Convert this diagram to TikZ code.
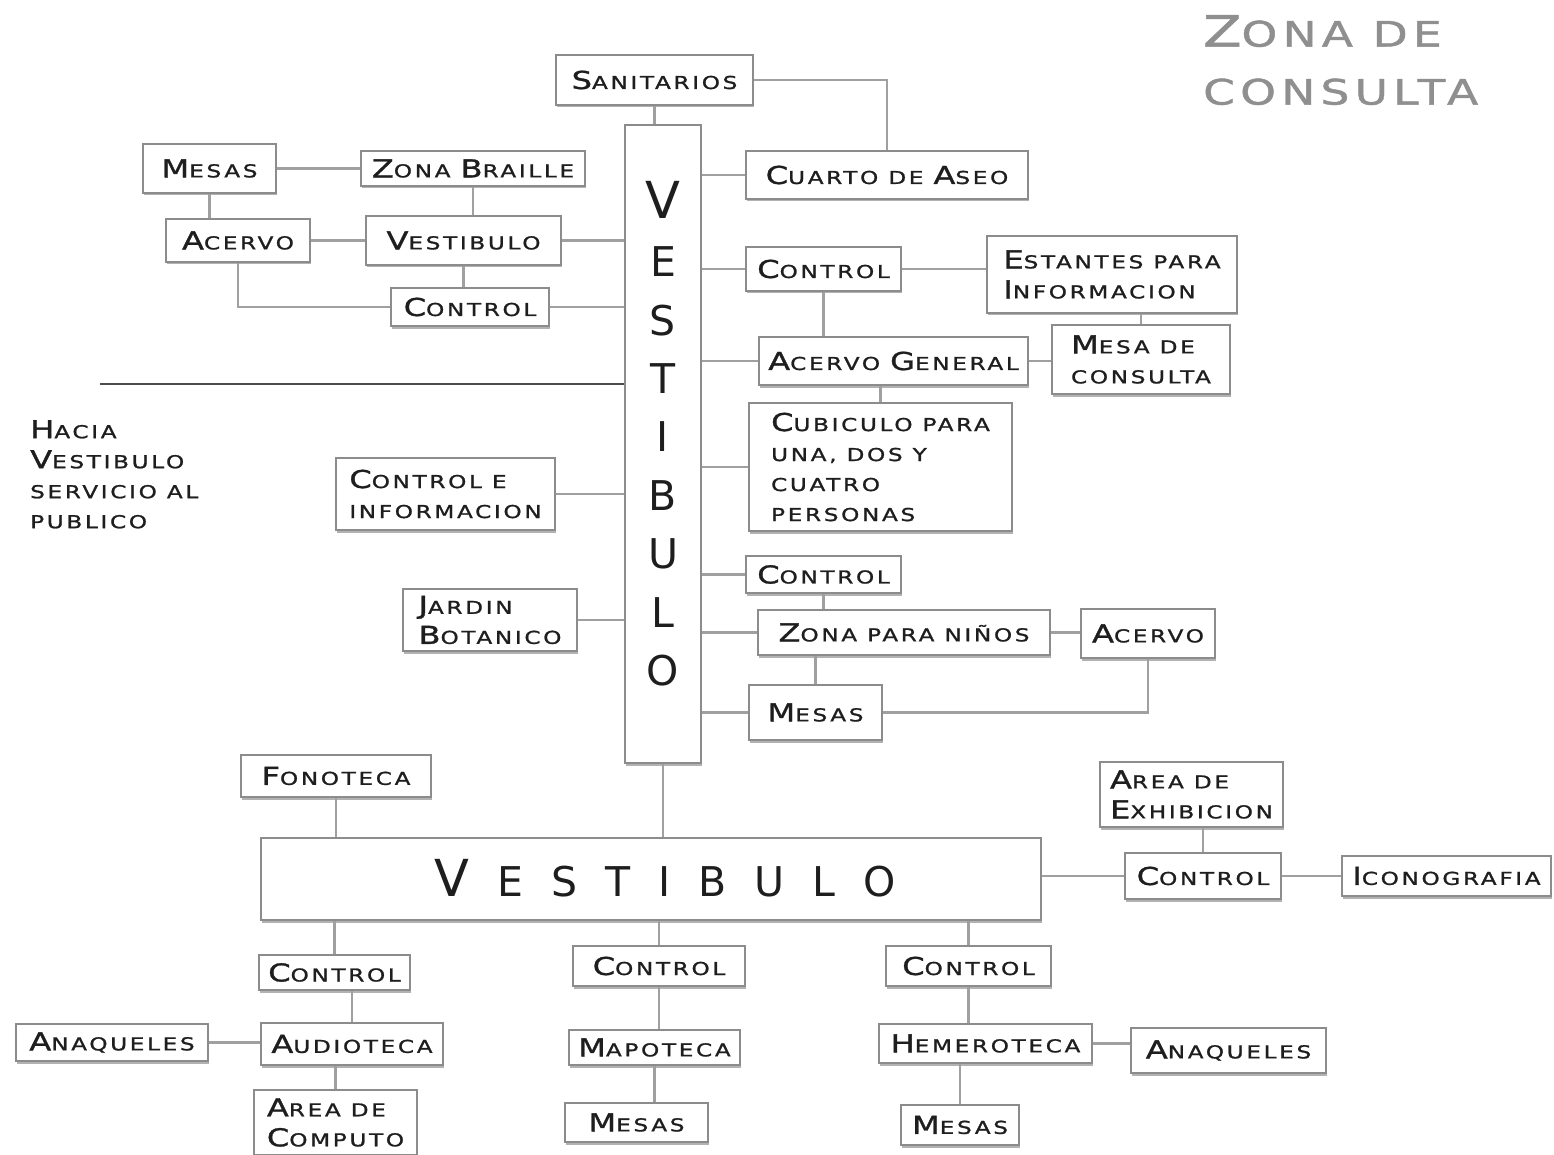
\documentclass[tikz,border=0pt]{standalone}
\usepackage{fontspec}
\usepackage{tikz}
\usetikzlibrary{positioning,shadows}

\newfontfamily\boxfont[FakeStretch=1.3,LetterSpace=15,FakeBold=1.2]{DejaVu Sans}
\newfontfamily\vestfont{DejaVu Sans}

\definecolor{boxgray}{HTML}{8C8C8C}
\definecolor{linegray}{HTML}{A0A0A0}
\definecolor{titlegray}{HTML}{8F8F8F}
\definecolor{txt}{HTML}{1E1E1E}

% big initial letter of the small caps
\newcommand\Ini[1]{{\fontsize{24.7}{30}\selectfont #1}}
\newcommand\Iniv[1]{{\fontsize{51}{58.4}\selectfont #1}}
\newcommand\Initl[1]{{\fontsize{43}{58}\selectfont #1}}
\newcommand\gap{\hspace{28pt}}

\begin{document}
\begin{tikzpicture}[x=1pt, y=-1pt,
    box/.style={draw=boxgray, line width=2pt, fill=white, inner sep=0pt,
        align=center, text=txt, font=\boxfont\fontsize{17.8}{30}\selectfont,
        drop shadow={shadow xshift=0.5pt, shadow yshift=-2.5pt, fill=black!30, opacity=1}},
    link/.style={draw=linegray, line width=2.5pt},
    vlabel/.style={inner sep=0pt, align=center, text=txt, font=\vestfont\fontsize{41}{58.4}\selectfont}]

    \fill[white] (0,0) rectangle (1554,1155);
    \useasboundingbox (0,0) rectangle (1554,1155);

    % Title
    \node[anchor=north west, inner sep=0pt, align=left, text=titlegray,
        font=\boxfont\fontsize{35}{58}\selectfont] (title) at (1203,15)
        {\Initl{Z}ONA DE\\CONSULTA};
    \node[anchor=north west, inner sep=0pt, align=left, text=txt,
        font=\boxfont\fontsize{17.8}{30}\selectfont] (hacia) at (30,420)
        {\Ini{H}ACIA\\\Ini{V}ESTIBULO\\SERVICIO AL\\PUBLICO};

    % Vertical vestibulo
    \node[box, minimum width=76, minimum height=638] (vert) at (663,444) {};
    \node[vlabel] (vertlbl) at (663,433.5) {\Iniv{V}\\E\\S\\T\\I\\B\\U\\L\\O};

    % Nodes top left
    \node[box, minimum width=197, minimum height=50] (sanit) at (654.5,80) {\Ini{S}ANITARIOS};
    \node[box, minimum width=133, minimum height=49] (mesasTL) at (209.5,168.5) {\Ini{M}ESAS};
    \node[box, minimum width=224, minimum height=35] (braille) at (473,168.5) {\Ini{Z}ONA \Ini{B}RAILLE};
    \node[box, minimum width=144, minimum height=43] (acervoTL) at (238,240.5) {\Ini{A}CERVO};
    \node[box, minimum width=195, minimum height=49] (vestTL) at (463.5,240.5) {\Ini{V}ESTIBULO};
    \node[box, minimum width=158, minimum height=38] (controlTL) at (470,307) {\Ini{C}ONTROL};
    \node[box, minimum width=219, minimum height=72, align=left] (controlInfo) at (445.5,494) {\Ini{C}ONTROL E\\INFORMACION};
    \node[box, minimum width=174, minimum height=62, align=left] (jardin) at (490,620) {\Ini{J}ARDIN\\\Ini{B}OTANICO};

    % Nodes right
    \node[box, minimum width=282, minimum height=48] (cuarto) at (887,175) {\Ini{C}UARTO DE \Ini{A}SEO};
    \node[box, minimum width=155, minimum height=44] (control2) at (823.5,269) {\Ini{C}ONTROL};
    \node[box, minimum width=250, minimum height=77, align=left] (estantes) at (1112,274.5) {\Ini{E}STANTES PARA\\\Ini{I}NFORMACION};
    \node[box, minimum width=269, minimum height=48] (acervoGen) at (893.5,361) {\Ini{A}CERVO \Ini{G}ENERAL};
    \node[box, minimum width=178, minimum height=69, align=left] (mesaCons) at (1141,359.5) {\Ini{M}ESA DE\\CONSULTA};
    \node[box, minimum width=263, minimum height=128, align=left] (cubiculo) at (880.5,467) {\Ini{C}UBICULO PARA\\UNA, DOS Y\\CUATRO\\PERSONAS};
    \node[box, minimum width=155, minimum height=37] (control3) at (823.5,574.5) {\Ini{C}ONTROL};
    \node[box, minimum width=292, minimum height=45] (ninos) at (904,632.5) {\Ini{Z}ONA PARA NIÑOS};
    \node[box, minimum width=134, minimum height=49] (acervoN) at (1148,633.5) {\Ini{A}CERVO};
    \node[box, minimum width=133, minimum height=55] (mesasN) at (815.5,712.5) {\Ini{M}ESAS};

    % Horizontal vestibulo
    \node[box, minimum width=780, minimum height=82] (vestBig) at (651,879) {};
    \node[vlabel] (vestlbl) at (665,878) {\Iniv{V}\gap E\gap S\gap T\gap I\gap B\gap U\gap L\gap O};

    % Nodes bottom
    \node[box, minimum width=190, minimum height=42] (fonoteca) at (336,776) {\Ini{F}ONOTECA};
    \node[box, minimum width=183, minimum height=65, align=left] (areaExh) at (1191.5,794.5) {\Ini{A}REA DE\\\Ini{E}XHIBICION};
    \node[box, minimum width=156, minimum height=46] (controlR) at (1203,876) {\Ini{C}ONTROL};
    \node[box, minimum width=209, minimum height=40] (icono) at (1446.5,876) {\Ini{I}CONOGRAFIA};
    \node[box, minimum width=151, minimum height=35] (controlB1) at (334.5,972.5) {\Ini{C}ONTROL};
    \node[box, minimum width=182, minimum height=42] (audioteca) at (352,1044) {\Ini{A}UDIOTECA};
    \node[box, minimum width=192, minimum height=37] (anaquelesL) at (112,1042.5) {\Ini{A}NAQUELES};
    \node[box, minimum width=163, minimum height=65, align=left] (areaComp) at (335.5,1122.5) {\Ini{A}REA DE\\\Ini{C}OMPUTO};
    \node[box, minimum width=172, minimum height=40] (controlB2) at (659,966) {\Ini{C}ONTROL};
    \node[box, minimum width=171, minimum height=35] (mapoteca) at (654.5,1047.5) {\Ini{M}APOTECA};
    \node[box, minimum width=143, minimum height=39] (mesasB2) at (636.5,1122.5) {\Ini{M}ESAS};
    \node[box, minimum width=165, minimum height=40] (controlB3) at (968.5,966) {\Ini{C}ONTROL};
    \node[box, minimum width=213, minimum height=39] (hemeroteca) at (985.5,1043.5) {\Ini{H}EMEROTECA};
    \node[box, minimum width=195, minimum height=45] (anaquelesR) at (1228.5,1050.5) {\Ini{A}NAQUELES};
    \node[box, minimum width=118, minimum height=40] (mesasB3) at (960,1125) {\Ini{M}ESAS};

    % Connections top left
    \draw[link] (sanit.south) -- (sanit.south |- vert.north);
    \draw[link] (sanit.east) -| (cuarto.north);
    \draw[link] (mesasTL.east) -- (braille.west);
    \draw[link] (mesasTL.south) -- (mesasTL.south |- acervoTL.north);
    \draw[link] (braille.south) -- (braille.south |- vestTL.north);
    \draw[link] (acervoTL.east) -- (vestTL.west);
    \draw[link] (vestTL.east) -- (vestTL.east -| vert.west);
    \draw[link] (vestTL.south) -- (vestTL.south |- controlTL.north);
    \draw[link] (acervoTL.south) |- (controlTL.west);
    \draw[link] (controlTL.east) -- (controlTL.east -| vert.west);
    \draw[link] (controlInfo.east) -- (controlInfo.east -| vert.west);
    \draw[link] (jardin.east) -- (jardin.east -| vert.west);
    \coordinate (hline) at (100,384);
    \draw[link, draw=black!70] (hline) -- (hline -| vert.west);

    % Connections right
    \draw[link] (cuarto.west -| vert.east) -- (cuarto.west);
    \draw[link] (control2.west -| vert.east) -- (control2.west);
    \draw[link] (control2.east) -- (control2.east -| estantes.west);
    \draw[link] (control2.south) -- (control2.south |- acervoGen.north);
    \draw[link] (acervoGen.west -| vert.east) -- (acervoGen.west);
    \draw[link] (acervoGen.east) -- (acervoGen.east -| mesaCons.west);
    \draw[link] (mesaCons.north) -- (mesaCons.north |- estantes.south);
    \draw[link] (cubiculo.north) -- (cubiculo.north |- acervoGen.south);
    \draw[link] (cubiculo.west -| vert.east) -- (cubiculo.west);
    \draw[link] (control3.west -| vert.east) -- (control3.west);
    \draw[link] (control3.south) -- (control3.south |- ninos.north);
    \draw[link] (ninos.west -| vert.east) -- (ninos.west);
    \draw[link] (ninos.east) -- (ninos.east -| acervoN.west);
    \draw[link] (mesasN.north) -- (mesasN.north |- ninos.south);
    \draw[link] (mesasN.west -| vert.east) -- (mesasN.west);
    \draw[link] (mesasN.east) -| (acervoN.south);

    % Connections bottom
    \draw[link] (vert.south) -- (vert.south |- vestBig.north);
    \draw[link] (fonoteca.south) -- (fonoteca.south |- vestBig.north);
    \draw[link] (controlR.west -| vestBig.east) -- (controlR.west);
    \draw[link] (controlR.north) -- (controlR.north |- areaExh.south);
    \draw[link] (controlR.east) -- (controlR.east -| icono.west);
    \draw[link] (controlB1.north |- vestBig.south) -- (controlB1.north);
    \draw[link] (audioteca.north) -- (audioteca.north |- controlB1.south);
    \draw[link] (anaquelesL.east) -- (anaquelesL.east -| audioteca.west);
    \draw[link] (areaComp.north) -- (areaComp.north |- audioteca.south);
    \draw[link] (controlB2.north |- vestBig.south) -- (controlB2.north);
    \draw[link] (controlB2.south) -- (controlB2.south |- mapoteca.north);
    \draw[link] (mapoteca.south) -- (mapoteca.south |- mesasB2.north);
    \draw[link] (controlB3.north |- vestBig.south) -- (controlB3.north);
    \draw[link] (controlB3.south) -- (controlB3.south |- hemeroteca.north);
    \draw[link] (mesasB3.north) -- (mesasB3.north |- hemeroteca.south);
    \draw[link] (hemeroteca.east) -- (hemeroteca.east -| anaquelesR.west);
\end{tikzpicture}
\end{document}
